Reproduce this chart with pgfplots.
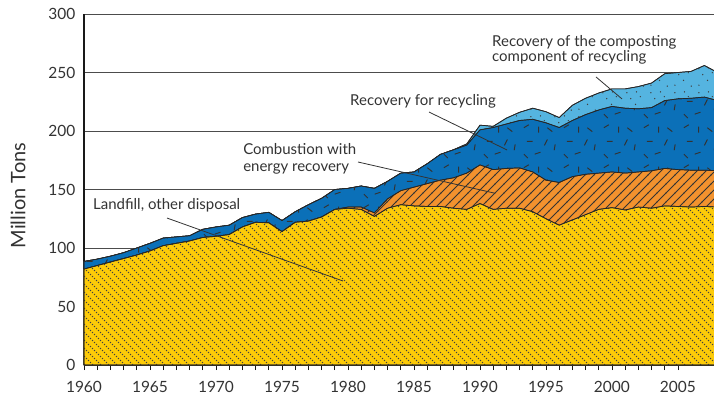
\documentclass[border=0pt]{standalone}
\usepackage{fontspec}
\setmainfont{Lato}
\usepackage{pgfplots}
\usepackage{pgfplotstable}
\pgfplotsset{compat=1.18}
\usetikzlibrary{patterns}

\definecolor{cY}{HTML}{FDCB08}
\definecolor{cO}{HTML}{F2922E}
\definecolor{cD}{HTML}{0B70B8}
\definecolor{cL}{HTML}{55B4E0}
\definecolor{txt}{HTML}{333333}

% dotted diagonal lines (\ direction)
\pgfdeclarepatternformonly{ydash}{\pgfqpoint{-1pt}{-1pt}}{\pgfqpoint{9pt}{9pt}}{\pgfqpoint{8pt}{8pt}}{%
  \pgfsetlinewidth{1pt}%
  \pgfsetdash{{1.4pt}{1.43pt}}{0pt}%
  \pgfpathmoveto{\pgfqpoint{0pt}{8pt}}%
  \pgfpathlineto{\pgfqpoint{8pt}{0pt}}%
  \pgfusepath{stroke}}
% solid diagonal lines (/ direction)
\pgfdeclarepatternformonly{olines}{\pgfqpoint{-1pt}{-1pt}}{\pgfqpoint{10pt}{10pt}}{\pgfqpoint{9pt}{9pt}}{%
  \pgfsetlinewidth{0.8pt}%
  \pgfpathmoveto{\pgfqpoint{-0.5pt}{-0.5pt}}%
  \pgfpathlineto{\pgfqpoint{9.5pt}{9.5pt}}%
  \pgfusepath{stroke}}
% scattered short dashes
\pgfdeclarepatternformonly{bdash}{\pgfqpoint{0pt}{0pt}}{\pgfqpoint{40pt}{40pt}}{\pgfqpoint{40pt}{40pt}}{%
  \pgfsetlinewidth{1pt}%
  \pgfpathmoveto{\pgfqpoint{4pt}{34pt}}\pgfpathlineto{\pgfqpoint{9pt}{37pt}}%
  \pgfpathmoveto{\pgfqpoint{19pt}{29pt}}\pgfpathlineto{\pgfqpoint{19pt}{35pt}}%
  \pgfpathmoveto{\pgfqpoint{28pt}{34pt}}\pgfpathlineto{\pgfqpoint{33pt}{30pt}}%
  \pgfpathmoveto{\pgfqpoint{7pt}{20pt}}\pgfpathlineto{\pgfqpoint{13pt}{20pt}}%
  \pgfpathmoveto{\pgfqpoint{25pt}{16pt}}\pgfpathlineto{\pgfqpoint{28pt}{22pt}}%
  \pgfpathmoveto{\pgfqpoint{35pt}{11pt}}\pgfpathlineto{\pgfqpoint{36pt}{17pt}}%
  \pgfpathmoveto{\pgfqpoint{4pt}{7pt}}\pgfpathlineto{\pgfqpoint{8pt}{3pt}}%
  \pgfpathmoveto{\pgfqpoint{15pt}{7pt}}\pgfpathlineto{\pgfqpoint{21pt}{9pt}}%
  \pgfusepath{stroke}}
% scattered dots
\pgfdeclarepatternformonly{ldots}{\pgfqpoint{0pt}{0pt}}{\pgfqpoint{24pt}{24pt}}{\pgfqpoint{24pt}{24pt}}{%
  \pgfpathcircle{\pgfqpoint{3pt}{4pt}}{0.75pt}%
  \pgfpathcircle{\pgfqpoint{12pt}{9pt}}{0.75pt}%
  \pgfpathcircle{\pgfqpoint{20pt}{3pt}}{0.75pt}%
  \pgfpathcircle{\pgfqpoint{7pt}{15pt}}{0.75pt}%
  \pgfpathcircle{\pgfqpoint{17pt}{17pt}}{0.75pt}%
  \pgfpathcircle{\pgfqpoint{3pt}{21pt}}{0.75pt}%
  \pgfpathcircle{\pgfqpoint{13pt}{22pt}}{0.75pt}%
  \pgfusepath{fill}}

% cumulative tops: landfill (Y), +combustion (O), +recycling (D), +composting (L)
\pgfplotstableread{
year Y O D L
1960 82 82 88.5 88.5
1961 85 85 90.5 90.5
1962 88 88 93 93
1963 91 91 96 96
1964 94 94 100 100
1965 97.5 97.5 104 104
1966 102 102 108.5 108.5
1967 104 104 109.5 109.5
1968 106 106 110.5 110.5
1969 109 109 116 116
1970 110 110 118 118
1971 111.5 111.5 119.5 119.5
1972 118 118 126 126
1973 122 122 129 129
1974 121.5 121.5 130.5 130.5
1975 114 114 123.5 123.5
1976 122 122 131 131
1977 123 123 137 137
1978 126.5 126.5 142.5 142.5
1979 133 133 150 150
1980 134 135 151 151
1981 133 135 153 153
1982 127 130 151 151
1983 134 142 157 157
1984 137 149 164 164
1985 136 152 165 165
1986 135.5 155 172 172
1987 135.5 158 180 180
1988 134 160 184 184
1989 133 164 188 189
1990 138 171 201 205
1991 133 167 203 204
1992 134 168 206 211
1993 134 168.5 209 216
1994 131 165 210 219.5
1995 125 158 207 216.5
1996 119.5 156 203 211.5
1997 124 161 209 222
1998 128.5 163 214 228
1999 133 164 218 232.5
2000 134.5 165 221 236
2001 132.5 164 219.5 236
2002 135 165 219 238
2003 134 166 220 241
2004 136 168 226 249
2005 135.5 167 227.5 250
2006 135 166.5 228 251
2007 135.5 166.5 229 256
2008 135 166 226 250
}\data

\begin{document}
\begin{tikzpicture}
\begin{axis}[
  scale only axis, width=630pt, height=351pt,
  xmin=1960, xmax=2007.73, ymin=0, ymax=300,
  axis lines*=left,
  axis line style={line width=1.6pt, black!90},
  xtick={1960,1965,...,2005}, minor x tick num=4,
  ytick={0,50,...,300},
  tick align=outside,
  major tick length=5pt, minor tick length=5pt,
  x tick style={black!90, line width=0.9pt},
  minor x tick style={black!90, line width=0.9pt},
  y tick style={draw=none},
  ymajorgrids, grid style={black!70, line width=0.9pt},
  /pgf/number format/.cd, 1000 sep={}, assume math mode=true, /pgfplots/.cd,
  ticklabel style={font=\fontsize{15.5}{15.5}\selectfont, text=txt},
  x tick label style={yshift=-8pt},
  y tick label style={xshift=0pt},
  ylabel={Million Tons},
  ylabel style={font=\fontsize{20}{20}\selectfont, text=txt,
    at={(axis description cs:-0.1048,0.483)}, anchor=center},
]
\addplot[fill=cL, draw=black!85, line width=0.7pt,
  postaction={pattern=ldots, pattern color=black!75}]
  table[x=year, y=L] {\data} \closedcycle;
\addplot[fill=cD, draw=black!85, line width=0.7pt,
  postaction={pattern=bdash, pattern color=black!80}]
  table[x=year, y=D] {\data} \closedcycle;
\addplot[fill=cO, draw=black!85, line width=0.7pt,
  postaction={pattern=olines, pattern color=black!80}]
  table[x=year, y=O] {\data} \closedcycle;
\addplot[fill=cY, draw=black!85, line width=0.7pt,
  postaction={pattern=ydash, pattern color=black!75}]
  table[x=year, y=Y] {\data} \closedcycle;

\begin{scope}[every node/.style={font=\fontsize{15}{15}\selectfont, text=txt, inner sep=0pt}]
\node[anchor=base west] at (axis cs:1960.68,133.3) {Landfill, other disposal};
\draw[txt, line width=0.8pt] (axis cs:1966.29,125.6) -- (axis cs:1979.62,71.8);

\node[anchor=base west] at (axis cs:1972.05,179.5) {Combustion with};
\node[anchor=base west] at (axis cs:1972.05,165.4) {energy recovery};
\draw[txt, line width=0.8pt] (axis cs:1980.76,173.5) -- (axis cs:1991.06,147.0);

\node[anchor=base west] at (axis cs:1980.15,221.4) {Recovery for recycling};
\draw[txt, line width=0.8pt] (axis cs:1986.14,216.2) -- (axis cs:1992.05,183.8);

\node[anchor=base west] at (axis cs:1990.91,272.6) {Recovery of the composting};
\node[anchor=base west] at (axis cs:1990.91,259.0) {component of recycling};
\draw[txt, line width=0.8pt] (axis cs:1998.79,246.2) -- (axis cs:2000.76,227.4);
\end{scope}
\end{axis}
\pgfresetboundingbox
\path[use as bounding box] (-84pt,-35pt) rectangle (630pt,365pt);
\end{tikzpicture}
\end{document}
